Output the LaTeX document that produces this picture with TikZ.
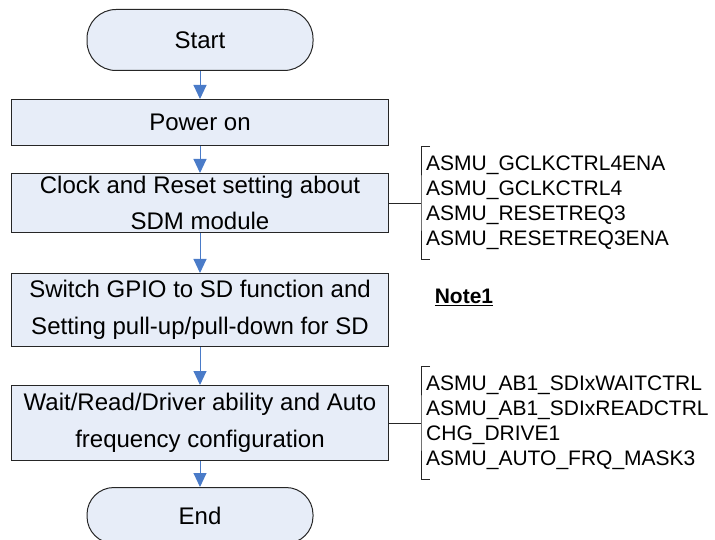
\documentclass[tikz,border=0pt]{standalone}
\usepackage{fontspec}
\setmainfont{Liberation Sans}
\usetikzlibrary{positioning,arrows.meta}
\definecolor{boxfill}{HTML}{E7EDF8}
\definecolor{boxline}{HTML}{262626}
\definecolor{arrblue}{HTML}{4A7BC8}

\begin{document}
\begin{tikzpicture}[
  x=1pt, y=-1pt,
  box/.style={draw=boxline, line width=1pt, fill=boxfill, minimum width=377pt, inner xsep=2pt, inner ysep=0pt, align=center, font=\fontsize{24}{36.5}\selectfont},
  term/.style={box, minimum width=226pt, rounded corners=29pt},
  arr/.style={draw=arrblue, line width=1pt, -{Triangle[length=14pt, width=13pt]}},
  regs/.style={align=left, inner sep=0pt, minimum height=113pt, font=\fontsize{21}{25}\selectfont},
  bracket/.style={draw=boxline, line width=0.8pt}
]
\useasboundingbox (0,0) rectangle (715,540);
\node[term, minimum height=61pt] (start) at (200,40) {Start};
\node[box, minimum height=46pt, below=28pt of start] (power) {Power on};
\node[box, minimum height=59pt, below=27pt of power] (clock) {Clock and Reset setting about\\SDM module};
\node[box, minimum height=73pt, below=40pt of clock] (gpio) {Switch GPIO to SD function and\\Setting pull-up/pull-down for SD};
\node[box, minimum height=75pt, below=38pt of gpio] (wait) {Wait/Read/Driver ability and Auto\\frequency configuration};
\node[term, minimum height=56pt, rounded corners=27pt, below=26pt of wait] (finish) {End};
\draw[arr] (start) -- (power);
\draw[arr] (power) -- (clock);
\draw[arr] (clock) -- (gpio);
\draw[arr] (gpio) -- (wait);
\draw[arr] (wait) -- (finish);
% register lists
\node[regs, right=37pt of clock] (regs1) {ASMU\_GCLKCTRL4ENA\\ASMU\_GCLKCTRL4\\ASMU\_RESETREQ3\\ASMU\_RESETREQ3ENA};
\node[regs, right=37pt of wait] (regs2) {ASMU\_AB1\_SDIxWAITCTRL\\ASMU\_AB1\_SDIxREADCTRL\\CHG\_DRIVE1\\ASMU\_AUTO\_FRQ\_MASK3};
\draw[bracket] ([xshift=4pt]regs1.north west) -| ([xshift=-5pt]regs1.west) |- ([xshift=4pt]regs1.south west);
\draw[bracket] ([xshift=4pt]regs2.north west) -| ([xshift=-5pt]regs2.west) |- ([xshift=4pt]regs2.south west);
\draw[bracket] (clock.east) -- ([xshift=-5pt]regs1.west);
\draw[bracket] (wait.east) -- ([xshift=-5pt]regs2.west);
\node[font=\fontsize{21}{25}\selectfont\bfseries, inner sep=0pt] (note) at (464,297) {\underline{Note1}};
\end{tikzpicture}
\end{document}
